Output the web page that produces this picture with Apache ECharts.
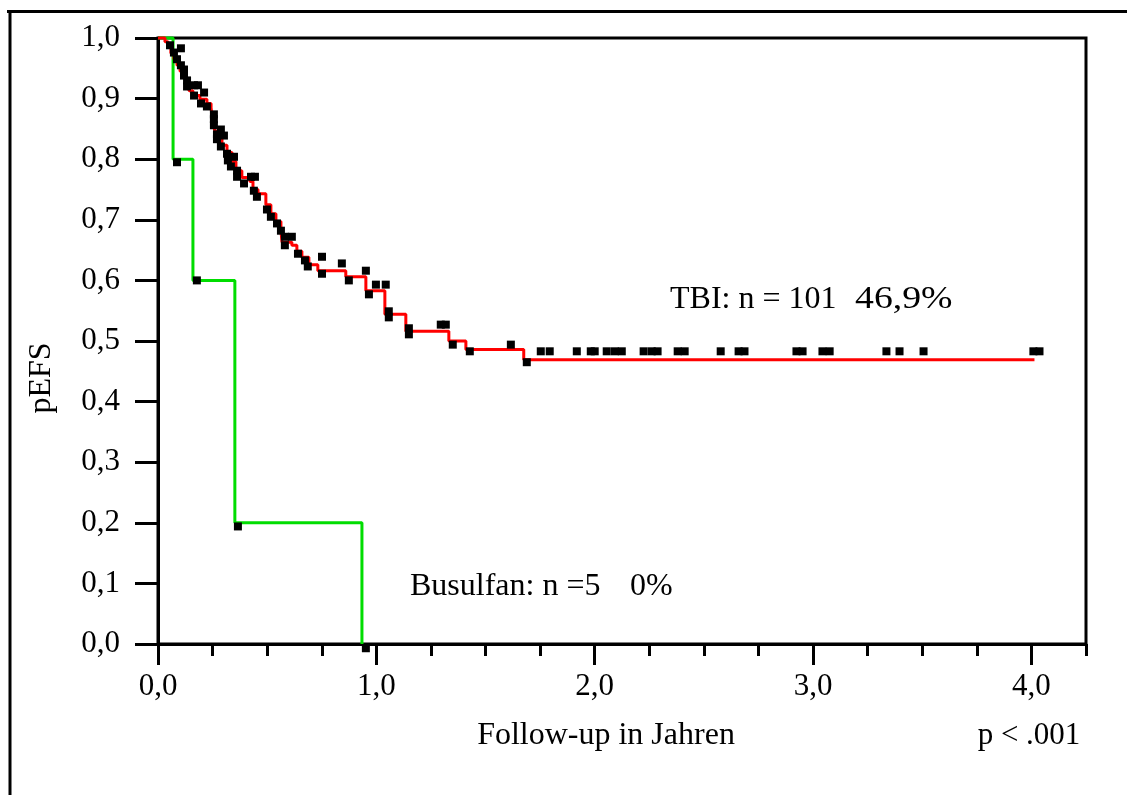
<!DOCTYPE html>
<html>
<head>
<meta charset="utf-8">
<title>pEFS</title>
<script src="https://cdn.jsdelivr.net/npm/echarts@6/dist/echarts.min.js"></script>
<style>
  html, body { margin: 0; padding: 0; background: #fff; }
  #chart { width: 1127px; height: 795px; }
</style>
</head>
<body>
<div id="chart"></div>
<script>
// Kaplan-Meier event-free survival, step points [years, pEFS]
const tbiCurve = [
  [0, 1.0], [0.032, 0.994], [0.046, 0.985], [0.059, 0.975], [0.073, 0.965],
  [0.087, 0.955], [0.101, 0.945], [0.114, 0.935], [0.128, 0.923], [0.142, 0.913],
  [0.160, 0.905], [0.192, 0.899], [0.224, 0.892], [0.243, 0.885], [0.247, 0.872],
  [0.252, 0.859], [0.261, 0.846], [0.275, 0.834], [0.293, 0.823], [0.316, 0.811],
  [0.339, 0.796], [0.357, 0.781], [0.384, 0.770], [0.421, 0.763], [0.435, 0.750],
  [0.458, 0.743], [0.494, 0.725], [0.517, 0.710], [0.540, 0.697], [0.563, 0.682],
  [0.568, 0.663], [0.613, 0.658], [0.636, 0.648], [0.659, 0.638], [0.691, 0.626],
  [0.732, 0.616], [0.860, 0.606], [0.952, 0.583], [1.039, 0.544], [1.135, 0.516],
  [1.332, 0.500], [1.410, 0.486], [1.675, 0.469], [4.014, 0.469]
];
const busulfanCurve = [
  [0, 1.0], [0.069, 0.8], [0.160, 0.6], [0.352, 0.2], [0.934, 0.0]
];

// Individual patient marks [years, pEFS]
const tbiMarks = [
  [0.055, 0.988], [0.105, 0.983], [0.073, 0.976], [0.087, 0.965], [0.105, 0.955],
  [0.119, 0.948], [0.119, 0.938], [0.133, 0.930], [0.133, 0.920], [0.165, 0.922],
  [0.183, 0.922], [0.211, 0.910], [0.165, 0.905], [0.197, 0.892], [0.224, 0.887],
  [0.256, 0.874], [0.256, 0.866], [0.256, 0.856], [0.288, 0.849], [0.270, 0.841],
  [0.302, 0.839], [0.270, 0.833], [0.288, 0.821], [0.316, 0.809], [0.348, 0.804],
  [0.320, 0.798], [0.334, 0.788], [0.362, 0.781], [0.362, 0.771], [0.426, 0.771],
  [0.444, 0.771], [0.394, 0.760], [0.439, 0.748], [0.453, 0.738], [0.499, 0.717],
  [0.517, 0.705], [0.545, 0.694], [0.563, 0.682], [0.581, 0.672], [0.613, 0.672],
  [0.581, 0.658], [0.641, 0.644], [0.673, 0.633], [0.686, 0.623], [0.751, 0.639],
  [0.751, 0.611], [0.842, 0.628], [0.874, 0.600], [0.952, 0.616], [0.966, 0.577],
  [0.998, 0.593], [1.043, 0.593], [1.057, 0.549], [1.057, 0.539], [1.149, 0.521],
  [1.149, 0.511], [1.295, 0.527], [1.318, 0.527], [1.350, 0.494], [1.428, 0.483],
  [1.616, 0.494], [1.689, 0.465], [1.753, 0.483], [1.794, 0.483], [1.918, 0.483],
  [1.982, 0.483], [2.000, 0.483], [2.055, 0.483], [2.092, 0.483], [2.124, 0.483],
  [2.224, 0.483], [2.261, 0.483], [2.288, 0.483], [2.380, 0.483], [2.412, 0.483],
  [2.577, 0.483], [2.659, 0.483], [2.686, 0.483], [2.924, 0.483], [2.952, 0.483],
  [3.043, 0.483], [3.076, 0.483], [3.336, 0.483], [3.396, 0.483], [3.506, 0.483],
  [4.009, 0.483], [4.037, 0.483]
];
const busulfanMarks = [
  [0.087, 0.795], [0.178, 0.600], [0.366, 0.194], [0.952, -0.007]
];

// Axis ticks and labels
const xTickValues = [0, 1, 2, 3, 4];
const xTickLabels = ['0,0', '1,0', '2,0', '3,0', '4,0'];
const yTickLabels = ['0,0', '0,1', '0,2', '0,3', '0,4', '0,5', '0,6', '0,7', '0,8', '0,9', '1,0'];

const SERIF = '"Liberation Serif", "Times New Roman", "DejaVu Serif", serif';
const chart = echarts.init(document.getElementById('chart'), null, { renderer: 'canvas' });

function textEl(text, x, y, align, size, opts) {
  opts = opts || {};
  return {
    type: 'text',
    x: x, y: y,
    rotation: opts.rotation || 0,
    scaleX: opts.scaleX || 1,
    silent: true,
    style: {
      text: text, x: 0, y: 0,
      fill: '#000',
      font: size + 'px ' + SERIF,
      textAlign: align, align: align,
      textVerticalAlign: 'middle', verticalAlign: 'middle'
    }
  };
}

chart.setOption({
  backgroundColor: '#fff',
  animation: false,
  grid: {
    left: 158, top: 38, right: 41, bottom: 151,
    show: true, borderColor: '#000', borderWidth: 3, backgroundColor: 'transparent'
  },
  xAxis: [
    {
      type: 'value', min: 0, max: 4.25, interval: 0.25, position: 'bottom',
      axisLine: { show: true, lineStyle: { color: '#000', width: 3 } },
      axisTick: { show: true, inside: false, length: 12, lineStyle: { color: '#000', width: 3 } },
      axisLabel: { show: false },
      splitLine: { show: false }
    },
    {
      type: 'value', min: 0, max: 4.25, position: 'bottom',
      axisLine: { show: false },
      axisTick: { show: true, inside: false, length: 21, customValues: xTickValues,
                  lineStyle: { color: '#000', width: 3 } },
      axisLabel: {
        show: true, customValues: xTickValues, margin: 27,
        color: '#000', fontFamily: SERIF, fontSize: 31,
        formatter: function (v) { return xTickLabels[xTickValues.indexOf(Math.round(v))] || ''; }
      },
      splitLine: { show: false }
    }
  ],
  yAxis: {
    type: 'value', min: 0, max: 1, interval: 0.1,
    axisLine: { show: true, lineStyle: { color: '#000', width: 3 } },
    axisTick: { show: true, inside: false, length: 23, lineStyle: { color: '#000', width: 3 } },
    axisLabel: {
      margin: 38, color: '#000', fontFamily: SERIF, fontSize: 31,
      formatter: function (v) { return yTickLabels[Math.round(v * 10)]; }
    },
    splitLine: { show: false }
  },
  series: [
    {
      name: 'Busulfan', type: 'line', step: 'end', data: busulfanCurve,
      xAxisIndex: 0, showSymbol: false, clip: false,
      lineStyle: { color: '#00dd00', width: 3 }, z: 2
    },
    {
      name: 'TBI', type: 'line', step: 'end', data: tbiCurve,
      xAxisIndex: 0, showSymbol: false, clip: false,
      lineStyle: { color: '#ff0000', width: 3 }, z: 3
    },
    {
      name: 'TBI marks', type: 'scatter', data: tbiMarks, xAxisIndex: 0,
      symbol: 'rect', symbolSize: 8, clip: false,
      itemStyle: { color: '#000', opacity: 1 }, z: 4
    },
    {
      name: 'Busulfan marks', type: 'scatter', data: busulfanMarks, xAxisIndex: 0,
      symbol: 'rect', symbolSize: 8, clip: false,
      itemStyle: { color: '#000', opacity: 1 }, z: 4
    }
  ],
  graphic: [
    // outer frame
    { type: 'line', silent: true, shape: { x1: 7, y1: 11.5, x2: 1127, y2: 11.5 },
      style: { stroke: '#000', lineWidth: 3 } },
    { type: 'line', silent: true, shape: { x1: 10, y1: 10, x2: 10, y2: 795 },
      style: { stroke: '#000', lineWidth: 3 } },
    textEl('pEFS', 42, 378, 'center', 32, { rotation: Math.PI / 2 }),
    textEl('Follow-up in Jahren', 606, 736, 'center', 32),
    textEl('p < .001', 1029, 736, 'center', 31),
    textEl('TBI: n = 101', 670, 300, 'left', 32),
    textEl('46,9%', 855, 300, 'left', 32, { scaleX: 1.18 }),
    textEl('Busulfan: n =5', 410, 587, 'left', 32),
    textEl('0%', 630, 587, 'left', 32)
  ]
});
</script>
</body>
</html>
